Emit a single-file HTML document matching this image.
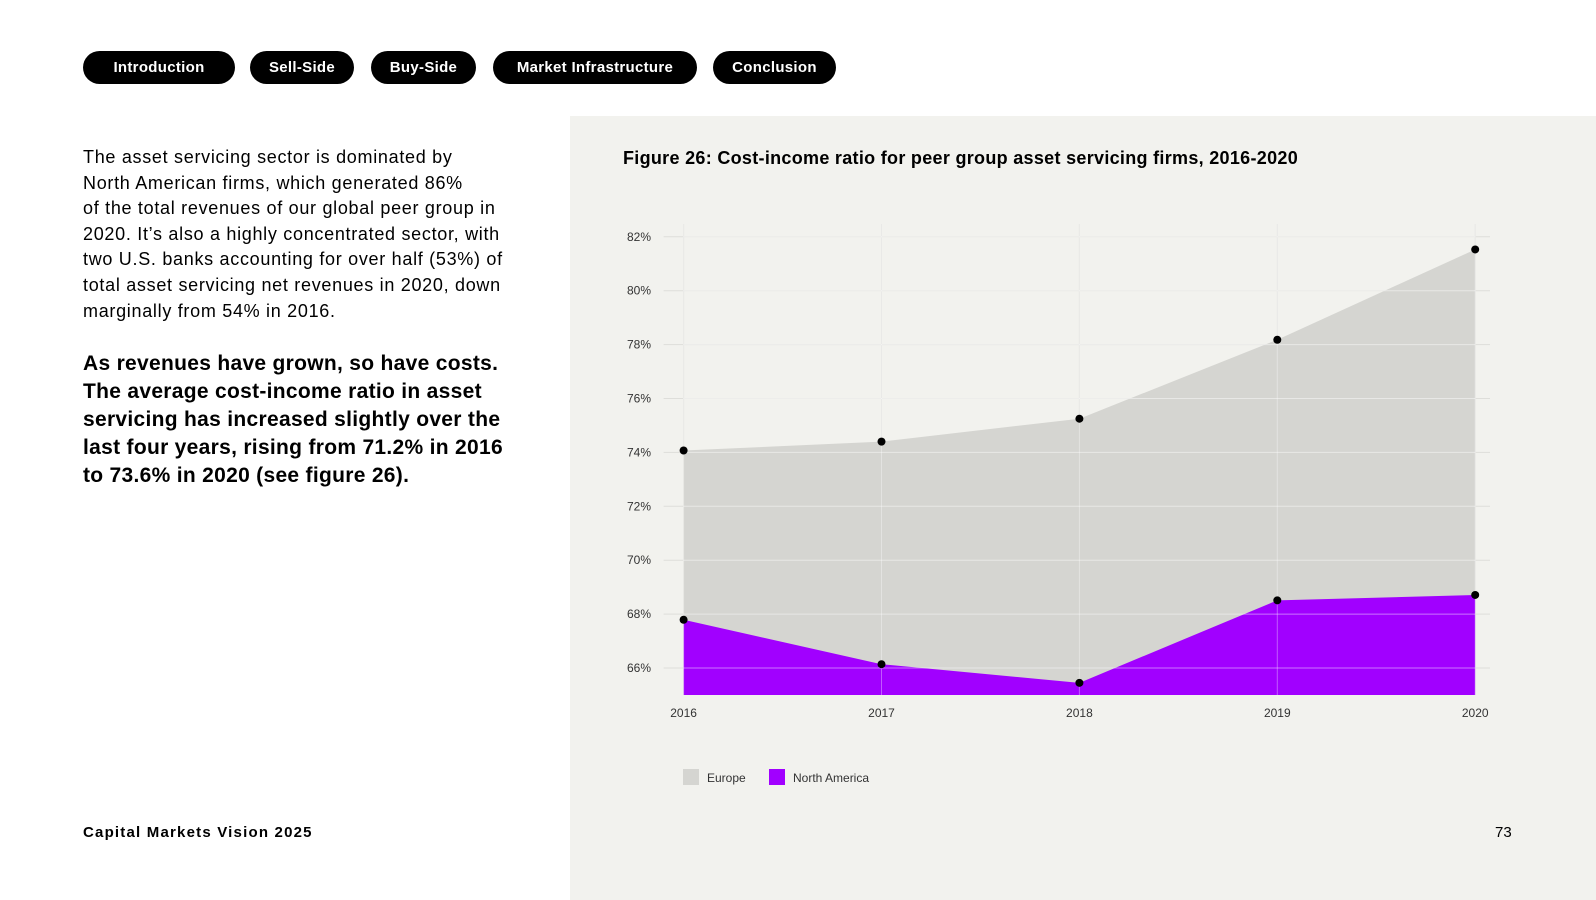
<!DOCTYPE html>
<html><head><meta charset="utf-8"><style>
body{margin:0;width:1596px;height:900px;position:relative;overflow:hidden;background:#fff;font-family:"Liberation Sans",sans-serif;color:#000}
.pill{position:absolute;top:51px;height:33px;border-radius:17px;background:#000;color:#fff;font-weight:bold;font-size:15px;line-height:33px;text-align:center;letter-spacing:0.3px}
#panel{position:absolute;left:570px;top:116px;width:1026px;height:784px;background:#f2f2ee}
.body{position:absolute;left:83px;top:145px;font-size:18px;line-height:25.6px;white-space:nowrap;letter-spacing:0.7px}
.lead{position:absolute;left:83px;top:350px;font-size:21px;line-height:28px;font-weight:bold;white-space:nowrap;letter-spacing:0.3px}
</style></head><body>
<div class="pill" style="left:83px;width:152px">Introduction</div>
<div class="pill" style="left:250px;width:104px">Sell-Side</div>
<div class="pill" style="left:371px;width:105px">Buy-Side</div>
<div class="pill" style="left:493px;width:204px">Market Infrastructure</div>
<div class="pill" style="left:713px;width:123px">Conclusion</div>
<div class="body">The asset servicing sector is dominated by<br>North American firms, which generated 86%<br>of the total revenues of our global peer group in<br>2020. It’s also a highly concentrated sector, with<br>two U.S. banks accounting for over half (53%) of<br>total asset servicing net revenues in 2020, down<br>marginally from 54% in 2016.</div>
<div class="lead">As revenues have grown, so have costs.<br>The average cost-income ratio in asset<br>servicing has increased slightly over the<br>last four years, rising from 71.2% in 2016<br>to 73.6% in 2020 (see figure 26).</div>
<div style="position:absolute;left:83px;top:824px;font-size:15px;font-weight:bold;letter-spacing:1.2px">Capital Markets Vision 2025</div>
<div id="panel"></div>
<div style="position:absolute;left:1495px;top:824px;font-size:15px">73</div>
<div style="position:absolute;left:623px;top:148px;font-size:18px;font-weight:bold;letter-spacing:0.3px">Figure 26: Cost-income ratio for peer group asset servicing firms, 2016-2020</div>
<svg id="chart" width="1596" height="900" style="position:absolute;left:0;top:0"></svg>
<script>
const years=["2016","2017","2018","2019","2020"];
const europe=[74.07,74.4,75.25,78.18,81.53];
const northAmerica=[67.79,66.14,65.45,68.51,68.71];
const yTicks=[66,68,70,72,74,76,78,80,82];
const yMin=65, x0=683.6, step=197.9, yRef=668, pxPer=26.95;
function xs(i){return x0+i*step;}
function ys(v){return yRef-(v-66)*pxPer;}
const svg=document.getElementById('chart');const NS='http://www.w3.org/2000/svg';
function mk(t,a){const e=document.createElementNS(NS,t);for(const k in a)e.setAttribute(k,a[k]);svg.appendChild(e);return e;}
function area(vals,fill,name){let d='M'+xs(0)+','+ys(yMin);vals.forEach((v,i)=>d+=' L'+xs(i)+','+ys(v));d+=' L'+xs(vals.length-1)+','+ys(yMin)+' Z';const p=mk('path',{d:d,fill:fill});}
yTicks.forEach(t=>{const l=mk('line',{x1:xs(0)-20,x2:1490,y1:ys(t),y2:ys(t),stroke:'#dededa','stroke-width':1});});
years.forEach((y,i)=>{const l=mk('line',{x1:xs(i),x2:xs(i),y1:224,y2:ys(yMin),stroke:'#dededa','stroke-width':1});});
area(europe,'#d5d5d1','europe-area');
area(northAmerica,'#a100ff','north-america-area');
yTicks.forEach(t=>{const l=mk('line',{x1:xs(0),x2:xs(4),y1:ys(t),y2:ys(t),stroke:'rgba(255,255,255,0.45)','stroke-width':1});});
years.forEach((y,i)=>{const l=mk('line',{x1:xs(i),x2:xs(i),y1:224,y2:ys(yMin),stroke:'rgba(255,255,255,0.35)','stroke-width':1});});
[europe,northAmerica].forEach(s=>s.forEach((v,i)=>{const c=mk('circle',{cx:xs(i),cy:ys(v),r:4,fill:'#000'});}));
yTicks.forEach(t=>{const e=mk('text',{x:651,y:ys(t)+4,'font-size':12,'text-anchor':'end','font-family':'Liberation Sans, sans-serif',fill:'#333'});e.textContent=t+'%';});
years.forEach((y,i)=>{const e=mk('text',{x:xs(i),y:717,'font-size':12,'text-anchor':'middle','font-family':'Liberation Sans, sans-serif',fill:'#333'});e.textContent=y;});
const lg=[['Europe','#d5d5d1',683,707],['North America','#a100ff',769,793]];
lg.forEach(g=>{const r=mk('rect',{x:g[2],y:769,width:16,height:16,fill:g[1]});const t=mk('text',{x:g[3],y:782,'font-size':12,'font-family':'Liberation Sans, sans-serif',fill:'#333'});t.textContent=g[0];});
</script>
</body></html>
